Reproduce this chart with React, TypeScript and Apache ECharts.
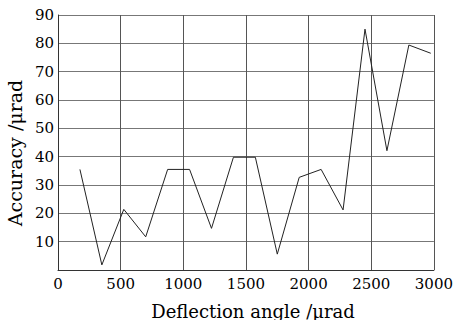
import React, { useEffect, useRef } from "react";
import * as echarts from "echarts";

const deflection = [175, 350, 525, 700, 875, 1050, 1225, 1400, 1575, 1750, 1925, 2100, 2275, 2450, 2625, 2800, 2975];
const accuracy = [35.5, 1.8, 21.4, 11.7, 35.5, 35.5, 14.7, 39.8, 39.8, 5.6, 32.7, 35.5, 21.2, 85, 42.1, 79.4, 76.5];
const xTitle = "Deflection angle /μrad";
const yTitle = "Accuracy /μrad";

const FONT = "DejaVu Serif";

export default function App() {
  const ref = useRef<HTMLDivElement>(null);
  useEffect(() => {
    if (!ref.current) return;
    const chart = echarts.init(ref.current, undefined, { renderer: "svg" });
    chart.setOption({
      animation: false,
      backgroundColor: "#fff",
      grid: { left: 58, right: 22, top: 15, bottom: 50 },
      xAxis: {
        type: "value",
        min: 0,
        max: 3000,
        interval: 500,
        axisLine: { show: true, lineStyle: { color: "#333", width: 1 } },
        axisTick: { show: false },
        axisLabel: {
          color: "#000",
          fontFamily: FONT,
          fontSize: 15,
          margin: 6,
          formatter: (v: number) => String(v),
        },
        splitLine: { show: true, lineStyle: { color: "#555", width: 1 } },
      },
      yAxis: {
        type: "value",
        min: 0,
        max: 90,
        interval: 10,
        axisLine: { show: true, lineStyle: { color: "#333", width: 1 } },
        axisTick: { show: false },
        axisLabel: {
          color: "#000",
          fontFamily: FONT,
          fontSize: 15,
          margin: 4,
          formatter: (v: number) => (v === 0 ? "" : String(v)),
        },
        splitLine: { show: true, lineStyle: { color: "#777", width: 1 } },
      },
      graphic: [
        {
          type: "text",
          x: 253,
          y: 311,
          style: {
            text: xTitle,
            fill: "#000",
            font: `18px "${FONT}"`,
            textAlign: "center",
            textVerticalAlign: "middle",
          },
        },
        {
          type: "text",
          x: 15,
          y: 153,
          rotation: Math.PI / 2,
          style: {
            text: yTitle,
            fill: "#000",
            font: `19px "${FONT}"`,
            textAlign: "center",
            textVerticalAlign: "middle",
          },
        },
      ],
      series: [
        {
          type: "line",
          data: deflection.map((d, i) => [d, accuracy[i]]),
          showSymbol: false,
          symbol: "none",
          lineStyle: { color: "#222", width: 1 },
        },
      ],
    });
    return () => chart.dispose();
  }, []);
  return <div ref={ref} style={{ position: "fixed", left: 0, top: 0, width: 456, height: 320 }} />;
}
